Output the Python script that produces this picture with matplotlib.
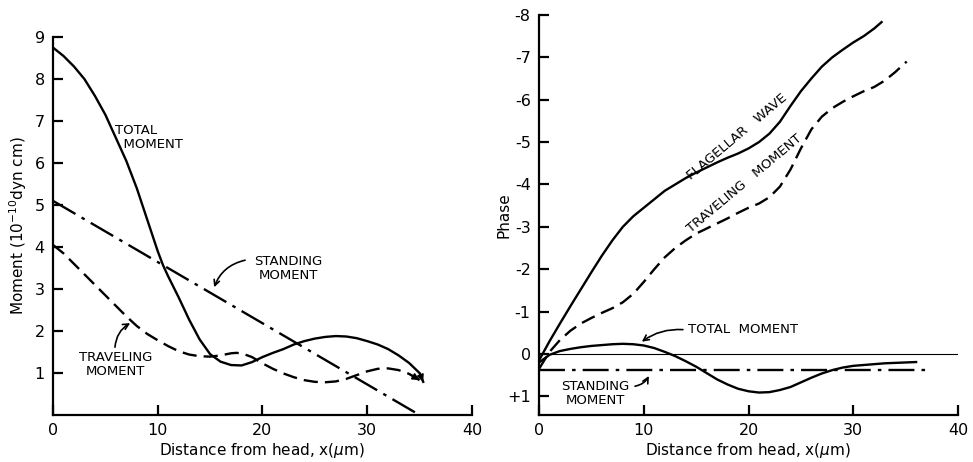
import matplotlib.pyplot as plt

# left panel: moment vs distance
x_total = [0, 1, 2, 3, 4, 5, 6, 7, 8, 9, 10, 10.5, 11, 12, 13, 14, 15, 16, 17, 18, 19, 20,
           21, 22, 23, 24, 25, 26, 27, 28, 29, 30, 31, 32, 33, 34, 35, 35.35]
total_moment = [8.75, 8.55, 8.3, 8.0, 7.6, 7.15, 6.6, 6.05, 5.4, 4.65, 3.9, 3.57, 3.3, 2.8,
                2.27, 1.8, 1.45, 1.27, 1.19, 1.18, 1.26, 1.38, 1.48, 1.57, 1.68, 1.76, 1.82,
                1.86, 1.88, 1.87, 1.83, 1.76, 1.68, 1.57, 1.42, 1.24, 1.0, 0.79]

x_trav = [0, 1, 2, 3, 4, 5, 6, 7, 8, 9, 10, 11, 12, 13, 14, 15, 16, 17, 17.5, 18, 19, 20, 21,
          22, 23, 24, 25, 26, 27, 28, 29, 30, 31, 32, 33, 34, 35]
traveling_moment = [4.05, 3.85, 3.6, 3.35, 3.1, 2.85, 2.6, 2.35, 2.12, 1.93, 1.78, 1.64, 1.52,
                    1.44, 1.4, 1.39, 1.42, 1.47, 1.48, 1.47, 1.38, 1.23, 1.1, 0.99, 0.9, 0.83,
                    0.79, 0.78, 0.8, 0.86, 0.95, 1.04, 1.1, 1.11, 1.07, 0.98, 0.83]

x_stand = [0, 35]
standing_moment = [5.1, 0]

# right panel: phase vs distance
x_flag = [0, 1, 2, 3, 4, 5, 6, 7, 8, 9, 10, 11, 12, 13, 14, 15, 16, 17, 18, 19, 20, 21, 22,
          23, 24, 25, 26, 27, 28, 29, 30, 31, 32, 32.7]
flagellar_phase = [0.15, -0.3, -0.72, -1.13, -1.53, -1.93, -2.32, -2.68, -3.0, -3.25, -3.45,
                   -3.65, -3.85, -4.0, -4.15, -4.28, -4.4, -4.52, -4.63, -4.73, -4.85, -5.0,
                   -5.2, -5.48, -5.85, -6.2, -6.5, -6.78, -7.0, -7.18, -7.35, -7.5, -7.68, -7.83]

x_trav_ph = [0, 1, 2, 3, 4, 5, 6, 7, 8, 9, 10, 11, 12, 13, 14, 15, 16, 17, 18, 19, 20, 21,
             22, 23, 24, 25, 26, 27, 28, 29, 30, 31, 32, 33, 34, 35.1]
traveling_phase = [0.35, -0.05, -0.33, -0.55, -0.72, -0.85, -0.97, -1.08, -1.22, -1.42, -1.7,
                   -2.0, -2.28, -2.5, -2.68, -2.84, -2.96, -3.08, -3.2, -3.33, -3.45, -3.55,
                   -3.7, -3.95, -4.35, -4.85, -5.3, -5.6, -5.8, -5.95, -6.08, -6.2, -6.3,
                   -6.45, -6.65, -6.9]

x_tot_ph = [0, 1, 2, 3, 4, 5, 6, 7, 8, 9, 10, 11, 12, 13, 14, 15, 16, 17, 18, 19, 20, 21,
            22, 23, 24, 25, 26, 27, 28, 29, 30, 31, 32, 33, 34, 35, 36]
total_phase = [0.2, 0.02, -0.07, -0.12, -0.16, -0.19, -0.21, -0.23, -0.24, -0.23, -0.2, -0.14,
               -0.05, 0.05, 0.17, 0.3, 0.45, 0.6, 0.72, 0.82, 0.88, 0.91, 0.9, 0.85, 0.78,
               0.67, 0.56, 0.46, 0.38, 0.32, 0.28, 0.26, 0.24, 0.22, 0.21, 0.2, 0.19]

x_stand_ph = [0, 37.5]
standing_phase = [0.38, 0.38]

x_ticks = [0, 10, 20, 30, 40]
left_yticks = [1, 2, 3, 4, 5, 6, 7, 8, 9]
right_yticks = [-8, -7, -6, -5, -4, -3, -2, -1, 0, 1]
right_yticklabels = ['-8', '-7', '-6', '-5', '-4', '-3', '-2', '-1', '0', '+1']

plt.rcParams['font.family'] = ['DejaVu Sans']
fig = plt.figure(figsize=(9.73, 4.62), dpi=100)
ax1 = fig.add_axes([0.0545, 0.1017, 0.4305, 0.818])
ax2 = fig.add_axes([0.554, 0.1017, 0.4306, 0.866])

for ax in (ax1, ax2):
    for s in ('top', 'right'):
        ax.spines[s].set_visible(False)
    for s in ('left', 'bottom'):
        ax.spines[s].set_linewidth(1.6)
    ax.tick_params(direction='in', length=7, width=1.6, labelsize=11.5, pad=6)
    ax.set_xlim(0, 40)
    ax.set_xticks(x_ticks)
    ax.set_xlabel('Distance from head, x($\\mu$m)', fontsize=11, labelpad=2)

lw = 1.7
dashed = (0, (6, 3))
dashdot = (0, (11, 3, 1.5, 3))
arrow_end = dict(arrowstyle='-|>', color='black', lw=1.2, mutation_scale=10,
                 shrinkA=0, shrinkB=0)

# left panel
ax1.plot(x_total, total_moment, color='black', lw=lw, solid_joinstyle='round')
ax1.plot(x_trav, traveling_moment, color='black', lw=lw, ls=dashed)
ax1.plot(x_stand, standing_moment, color='black', lw=lw, ls=dashdot)
ax1.annotate('', xy=(x_total[-1], total_moment[-1]), xytext=(x_total[-2], total_moment[-2]),
             arrowprops=arrow_end)
ax1.annotate('', xy=(x_trav[-1], traveling_moment[-1]), xytext=(x_trav[-2], traveling_moment[-2]),
             arrowprops=arrow_end)
ax1.set_ylim(0, 9)
ax1.set_yticks(left_yticks)
ax1.set_ylabel('Moment (10$^{-10}$dyn cm)', fontsize=11, labelpad=4)

ax1.text(5.9, 6.62, 'TOTAL\n  MOMENT', fontsize=9.5, va='center', ha='left', linespacing=1.1)
ax1.text(22.5, 3.5, 'STANDING\nMOMENT', fontsize=9.5, va='center', ha='center', linespacing=1.1)
ax1.text(6.0, 1.2, 'TRAVELING\nMOMENT', fontsize=9.5, va='center', ha='center', linespacing=1.1)
ax1.annotate('', xy=(15.3, 2.98), xytext=(18.6, 3.7),
             arrowprops=dict(arrowstyle='->', color='black', lw=1.2,
                             connectionstyle='arc3,rad=0.3'))
ax1.annotate('', xy=(7.6, 2.22), xytext=(5.9, 1.55),
             arrowprops=dict(arrowstyle='->', color='black', lw=1.2,
                             connectionstyle='arc3,rad=-0.3'))

# right panel
ax2.plot([0, 40], [0, 0], color='black', lw=0.8)
ax2.plot(x_flag, flagellar_phase, color='black', lw=lw, solid_joinstyle='round')
ax2.plot(x_trav_ph, traveling_phase, color='black', lw=lw, ls=dashed)
ax2.plot(x_tot_ph, total_phase, color='black', lw=lw, solid_joinstyle='round')
ax2.plot(x_stand_ph, standing_phase, color='black', lw=lw, ls=dashdot)
ax2.set_ylim(1.44, -8)
ax2.set_yticks(right_yticks)
ax2.set_yticklabels(right_yticklabels)
ax2.set_ylabel('Phase', fontsize=11, labelpad=-3)

ax2.text(18.9, -5.13, 'FLAGELLAR   WAVE', fontsize=9.5, rotation=40, ha='center', va='center',
         rotation_mode='anchor')
ax2.text(19.6, -4.03, 'TRAVELING   MOMENT', fontsize=9.5, rotation=40, ha='center', va='center',
         rotation_mode='anchor')
ax2.text(14.2, -0.57, 'TOTAL  MOMENT', fontsize=9.5, ha='left', va='center')
ax2.text(5.35, 0.93, 'STANDING\nMOMENT', fontsize=9.5, ha='center', va='center', linespacing=1.1)
ax2.annotate('', xy=(9.6, -0.25), xytext=(14.0, -0.57),
             arrowprops=dict(arrowstyle='->', color='black', lw=1.2,
                             connectionstyle='arc3,rad=0.2'))
ax2.annotate('', xy=(10.6, 0.46), xytext=(8.9, 0.77),
             arrowprops=dict(arrowstyle='->', color='black', lw=1.2,
                             connectionstyle='arc3,rad=0.3'))

fig.savefig('out.png', dpi=100)
